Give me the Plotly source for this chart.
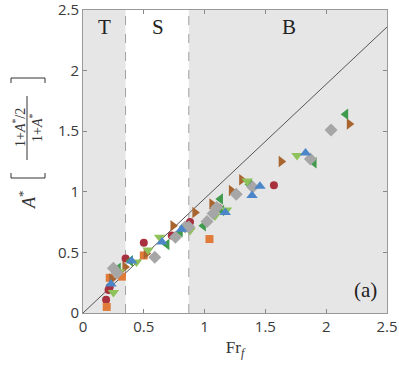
import plotly.graph_objects as go

# data (Fr_f, A* [(1+A*/2)/(1+A*)])
red_x = [0.19, 0.21, 0.22, 0.35, 0.50, 0.73, 0.88, 1.11, 1.57]
red_y = [0.11, 0.19, 0.215, 0.45, 0.58, 0.64, 0.75, 0.87, 1.055]

orange_x = [0.195, 0.22, 0.32, 0.50, 1.04]
orange_y = [0.05, 0.29, 0.30, 0.475, 0.61]

brown_x = [0.236, 0.345, 0.52, 0.74, 0.92, 1.06, 1.22, 1.305, 1.63, 2.19]
brown_y = [0.28, 0.38, 0.49, 0.72, 0.83, 0.90, 1.01, 1.10, 1.25, 1.56]

green_x = [0.29, 0.39, 0.69, 0.80, 0.99, 1.13, 1.14, 1.37, 1.90, 2.16]
green_y = [0.37, 0.43, 0.565, 0.67, 0.72, 0.94, 0.845, 1.06, 1.24, 1.64]

lgreen_x = [0.25, 0.30, 0.44, 0.535, 0.63, 0.88, 1.085, 1.18, 1.35, 1.76]
lgreen_y = [0.17, 0.34, 0.42, 0.52, 0.625, 0.68, 0.80, 0.85, 1.09, 1.30]

gray_x = [0.25, 0.28, 0.59, 0.76, 0.84, 0.87, 1.02, 1.07, 1.10, 1.26, 1.395, 1.87, 2.04]
gray_y = [0.37, 0.33, 0.46, 0.625, 0.71, 0.71, 0.755, 0.82, 0.87, 0.98, 1.04, 1.27, 1.51]

blue_x = [0.23, 0.40, 0.65, 0.81, 1.17, 1.39, 1.455, 1.83]
blue_y = [0.24, 0.43, 0.585, 0.69, 0.83, 0.97, 1.045, 1.32]

line_x = [0, 2.5]
line_y = [0, 2.36]

regime_edges = [0.35, 0.87]
regime_labels = ["T", "S", "B"]
regime_label_x = [0.18, 0.62, 1.69]

ticks = [0, 0.5, 1, 1.5, 2, 2.5]
tick_text = ["0", "0.5", "1", "1.5", "2", "2.5"]

series = [
    (red_x, red_y, "circle", "#a8303f", 8),
    (orange_x, orange_y, "square", "#e07b3a", 8),
    (brown_x, brown_y, "triangle-right", "#a8652f", 10),
    (green_x, green_y, "triangle-left", "#3f9a4c", 10),
    (lgreen_x, lgreen_y, "triangle-down", "#8fc25a", 10),
    (gray_x, gray_y, "diamond", "#a6a6a6", 10),
    (blue_x, blue_y, "triangle-up", "#4a86c8", 10),
]

fig = go.Figure()

# shaded regimes
fig.add_vrect(x0=0, x1=regime_edges[0], fillcolor="#e6e6e6", line_width=0, layer="below")
fig.add_vrect(x0=regime_edges[1], x1=2.5, fillcolor="#e6e6e6", line_width=0, layer="below")
for xe in regime_edges:
    fig.add_vline(x=xe, line=dict(color="#a0a0a0", width=1, dash="dash"), layer="below")

fig.add_trace(go.Scatter(x=line_x, y=line_y, mode="lines",
                         line=dict(color="#555555", width=1), showlegend=False))

for xs, ys, sym, col, sz in series:
    fig.add_trace(go.Scatter(x=xs, y=ys, mode="markers", showlegend=False,
                             marker=dict(symbol=sym, color=col, size=sz, line=dict(width=0))))

for lab, lx in zip(regime_labels, regime_label_x):
    fig.add_annotation(x=lx, y=2.36, text=lab, showarrow=False,
                       font=dict(family="Liberation Serif", size=21, color="#222"))
fig.add_annotation(x=2.32, y=0.19, text="(a)", showarrow=False,
                   font=dict(family="Liberation Serif", size=21, color="#222"))

# y-axis label built in pieces: A* [ (1+A*/2) / (1+A*) ]
W, H, L, B, T = 304, 303, 83, 56, 10
def px(x):
    return (x - L) / W
def py(y):
    return (369 - B - y) / H

lab_font = dict(family="Liberation Serif", size=18, color="#333")
frac_font = dict(family="Liberation Serif", size=14, color="#333")
rot = dict(xref="paper", yref="paper", textangle=-90, showarrow=False,
           xanchor="center", yanchor="middle")
fig.add_annotation(x=px(27), y=py(200), text="<i>A</i><sup>*</sup>", font=lab_font, **rot)
fig.add_annotation(x=px(19), y=py(128), text="1+<i>A</i><sup>*</sup>/2", font=frac_font, **rot)
fig.add_annotation(x=px(36), y=py(128), text="1+<i>A</i><sup>*</sup>", font=frac_font, **rot)
fig.add_shape(type="line", xref="paper", yref="paper", x0=px(27), x1=px(27), y0=py(96), y1=py(160),
              line=dict(color="#333", width=1))
fig.add_shape(type="path", xref="paper", yref="paper",
              path=f"M {px(11)} {py(173)} L {px(11)} {py(178)} L {px(45)} {py(178)} L {px(45)} {py(173)}",
              line=dict(color="#333", width=1))
fig.add_shape(type="path", xref="paper", yref="paper",
              path=f"M {px(11)} {py(83)} L {px(11)} {py(78)} L {px(45)} {py(78)} L {px(45)} {py(83)}",
              line=dict(color="#333", width=1))

axis_common = dict(range=[0, 2.5], tickvals=ticks, ticktext=tick_text, ticks="inside", ticklen=4,
                   tickcolor="#888", showline=True, linecolor="#999", mirror="ticks",
                   showgrid=False, zeroline=False, automargin=False, ticklabeloverflow="allow",
                   tickfont=dict(family="Open Sans", size=15, color="#3a3a3a"))

fig.update_xaxes(**axis_common, title=dict(text="Fr<sub><i>f</i></sub>",
                 font=dict(family="Liberation Serif", size=17, color="#333"), standoff=6))
fig.update_yaxes(**axis_common)

fig.update_layout(width=399, height=369, margin=dict(l=L, r=12, t=T, b=B, autoexpand=False),
                  plot_bgcolor="white", paper_bgcolor="white")

# drop the page's default body margin so the figure sits at the window's corner
fig.write_html("out.html", config={"displayModeBar": False},
               post_script="document.body.style.margin='0';")
